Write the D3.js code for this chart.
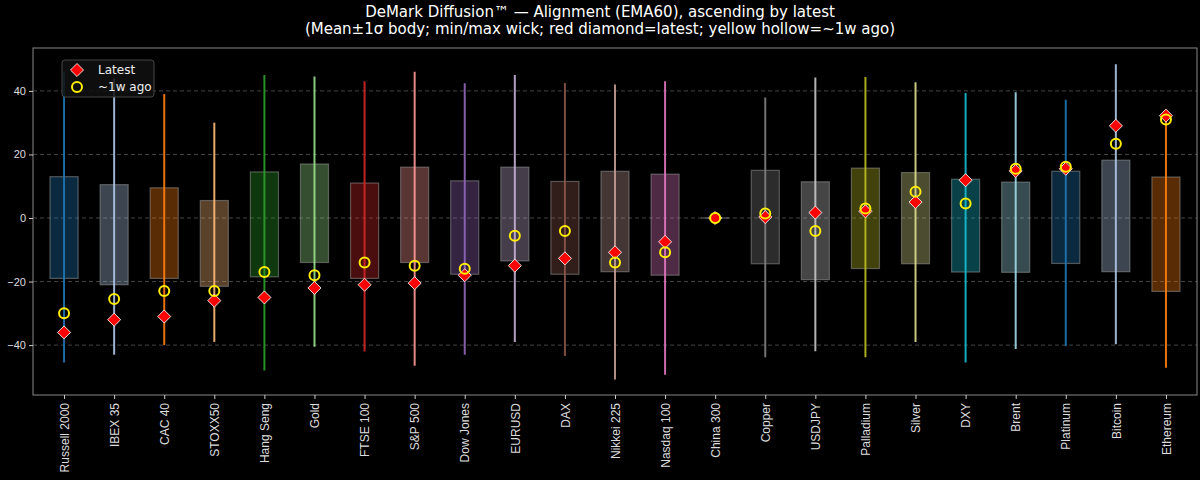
<!DOCTYPE html>
<html><head><meta charset="utf-8">
<script src="https://cdn.jsdelivr.net/npm/d3@7"></script>
<style>body{margin:0;background:#000;}svg{display:block;font-family:"DejaVu Sans",sans-serif;}</style>
</head><body><div id="chart"></div>
<script>
const names = ["Russell 2000","IBEX 35","CAC 40","STOXX50","Hang Seng","Gold","FTSE 100","S&P 500","Dow Jones","EURUSD","DAX","Nikkei 225","Nasdaq 100","China 300","Copper","USDJPY","Palladium","Silver","DXY","Brent","Platinum","Bitcoin","Ethereum"];
const bodyHi = [13,10.5,9.5,5.5,14.5,17,11,16,11.7,16,11.5,14.7,13.8,0,15,11.4,15.7,14.3,12.2,11.3,14.7,18.2,12.9];
const bodyLo = [-19,-21,-19,-21.5,-18.5,-14,-19,-14,-17.7,-13.5,-17.7,-16.9,-18,0,-14.4,-19.4,-15.9,-14.4,-17,-17.1,-14.3,-16.9,-23.1];
const wickHi = [46,44,39,30,45,44.5,43,46,42.4,45,42.5,42,43,0,37.9,44.2,44.4,42.7,39.3,39.6,37.2,48.4,33.5];
const wickLo = [-45.5,-43,-40,-39,-48,-40.5,-42,-46.5,-43,-39,-43.4,-50.8,-49.3,0,-43.8,-41.9,-43.8,-39,-45.5,-41.2,-40.3,-39.7,-47.1];
const latest = [-36,-32,-31,-26,-25,-22,-21,-20.5,-18,-15,-12.7,-10.8,-7.5,0,0.3,1.7,2.1,5,11.9,14.8,15.5,29,32.2];
const weekAgo = [-30,-25.5,-23,-23,-17,-18,-14,-15,-16,-5.6,-4.1,-14,-10.8,0,1.4,-4.1,3,8.3,4.6,15.5,16.1,23.4,31];
const yTicks = [-40,-20,0,20,40];
const palette = ["#1f77b4","#aec7e8","#ff7f0e","#ffbb78","#2ca02c","#98df8a","#d62728","#ff9896","#9467bd","#c5b0d5","#8c564b","#c49c94","#e377c2","#f7b6d2","#7f7f7f","#c7c7c7","#bcbd22","#dbdb8d","#17becf","#9edae5"];

const W = 1200, H = 480;
const margin = {top: 48, right: 3, bottom: 85, left: 33};
const svg = d3.select("#chart").append("svg").attr("width", W).attr("height", H);
svg.append("rect").attr("width", W).attr("height", H).attr("fill", "#000");

const x = d3.scaleLinear().domain([-0.62, names.length - 0.38]).range([margin.left, W - margin.right]);
const y = d3.scaleLinear().domain([-55.7, 53.5]).range([H - margin.bottom, margin.top]);
const bw = x(0.28) - x(0);

// grid
svg.append("g").selectAll("line").data(yTicks).join("line")
  .attr("x1", margin.left).attr("x2", W - margin.right)
  .attr("y1", d => y(d)).attr("y2", d => y(d))
  .attr("stroke", "#555").attr("stroke-dasharray", "4,3").attr("stroke-width", 0.8);

const idx = d3.range(names.length);
const col = i => palette[i % palette.length];

// bodies
svg.append("g").selectAll("rect").data(idx).join("rect")
  .attr("x", i => x(i) - bw).attr("width", 2 * bw)
  .attr("y", i => y(bodyHi[i])).attr("height", i => Math.max(0, y(bodyLo[i]) - y(bodyHi[i])))
  .attr("fill", i => col(i)).attr("fill-opacity", 0.35)
  .attr("stroke", "#aaa").attr("stroke-opacity", 0.45).attr("stroke-width", 1.2);
// China 300 flat body line
svg.append("g").selectAll("line").data(idx.filter(i => bodyHi[i] === bodyLo[i])).join("line")
  .attr("x1", i => x(i) - bw).attr("x2", i => x(i) + bw)
  .attr("y1", i => y(bodyHi[i])).attr("y2", i => y(bodyHi[i]))
  .attr("stroke", "#aaa").attr("stroke-opacity", 0.6);

// wicks
svg.append("g").selectAll("line").data(idx).join("line")
  .attr("x1", i => x(i)).attr("x2", i => x(i))
  .attr("y1", i => y(wickHi[i])).attr("y2", i => y(wickLo[i]))
  .attr("stroke", i => col(i)).attr("stroke-width", 2).attr("stroke-opacity", 0.9);

const diamond = d3.symbol().type(d3.symbolSquare).size(85);
svg.append("g").selectAll("path").data(idx).join("path")
  .attr("d", diamond)
  .attr("transform", i => `translate(${x(i)},${y(latest[i])}) rotate(45)`)
  .attr("fill", "red").attr("stroke", "#fff").attr("stroke-width", 0.8);

svg.append("g").selectAll("circle").data(idx).join("circle")
  .attr("cx", i => x(i)).attr("cy", i => y(weekAgo[i])).attr("r", 5)
  .attr("fill", "none").attr("stroke", "#ffee00").attr("stroke-width", 2);

// frame
svg.append("rect").attr("x", margin.left).attr("y", margin.top)
  .attr("width", W - margin.left - margin.right).attr("height", H - margin.top - margin.bottom)
  .attr("fill", "none").attr("stroke", "#888").attr("stroke-width", 1);

// y axis
const ya = svg.append("g").attr("transform", `translate(${margin.left},0)`)
  .call(d3.axisLeft(y).tickValues(yTicks).tickSize(4));
ya.select(".domain").remove();
ya.selectAll("line").attr("stroke", "#ccc");
ya.selectAll("text").attr("fill", "#ddd").style("font-size", "11px");

// x axis
const xa = svg.append("g").attr("transform", `translate(0,${H - margin.bottom})`)
  .call(d3.axisBottom(x).tickValues(idx).tickFormat(i => names[i]).tickSize(4));
xa.select(".domain").remove();
xa.selectAll("line").attr("stroke", "#ccc");
xa.selectAll("text").attr("fill", "#ddd").style("font-size", "12px")
  .attr("transform", "rotate(-90)").attr("text-anchor", "end")
  .attr("x", -8).attr("y", 0).attr("dy", "0.35em");

// title
svg.append("text").attr("x", 600).attr("y", 17).attr("text-anchor", "middle")
  .attr("fill", "#fff").style("font-size", "15px").text("DeMark Diffusion™ — Alignment (EMA60), ascending by latest");
svg.append("text").attr("x", 600).attr("y", 34).attr("text-anchor", "middle")
  .attr("fill", "#fff").style("font-size", "15px").text("(Mean±1σ body; min/max wick; red diamond=latest; yellow hollow=~1w ago)");

// legend
const lg = svg.append("g").attr("transform", "translate(62,60)");
lg.append("rect").attr("width", 92).attr("height", 37).attr("rx", 3)
  .attr("fill", "#111").attr("fill-opacity", 0.85).attr("stroke", "#444");
lg.append("path").attr("d", diamond).attr("transform", "translate(15,10) rotate(45)")
  .attr("fill", "red").attr("stroke", "#fff").attr("stroke-width", 0.8);
lg.append("circle").attr("cx", 15).attr("cy", 27).attr("r", 5)
  .attr("fill", "none").attr("stroke", "#ffee00").attr("stroke-width", 2);
lg.append("text").attr("x", 36).attr("y", 14).attr("fill", "#eee").style("font-size", "12px").text("Latest");
lg.append("text").attr("x", 36).attr("y", 31).attr("fill", "#eee").style("font-size", "12px").text("~1w ago");
</script></body></html>
